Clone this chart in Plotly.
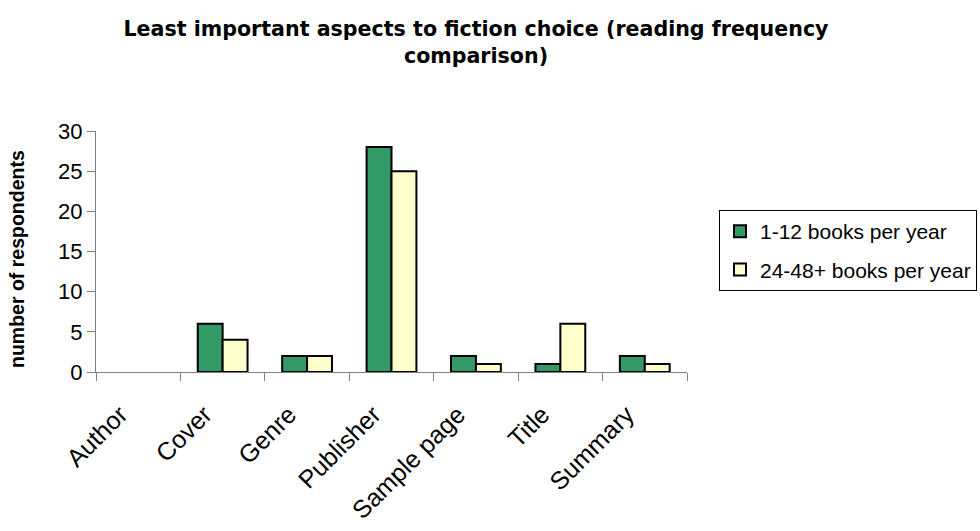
import plotly.graph_objects as go

categories = ["Author", "Cover", "Genre", "Publisher", "Sample page", "Title", "Summary"]
low_readers = [0, 6, 2, 28, 2, 1, 2]
high_readers = [0, 4, 2, 25, 1, 6, 1]
series_names = ["1-12 books per year", "24-48+ books per year"]
y_ticks = [0, 5, 10, 15, 20, 25, 30]

FONT = "Arial, Liberation Sans, sans-serif"
TITLE_FONT = "DejaVu Sans, sans-serif"


def drawn(values):
    # empty categories get no bar at all (avoids a flat outline on the baseline)
    return [v if v > 0 else None for v in values]


fig = go.Figure()
fig.add_trace(go.Bar(
    x=categories, y=drawn(low_readers), name=series_names[0],
    marker=dict(color="#339966", line=dict(color="#000000", width=2)),
    legendgroup="a",
))
fig.add_trace(go.Bar(
    x=categories, y=drawn(high_readers), name=series_names[1],
    marker=dict(color="#FFFFCC", line=dict(color="#000000", width=2)),
    legendgroup="b",
))

fig.update_layout(
    width=980, height=531,
    margin=dict(l=96, r=293, t=131, b=159, autoexpand=False),
    paper_bgcolor="white", plot_bgcolor="white",
    font=dict(family=FONT, color="#000000"),
    barmode="group", bargap=0.41, bargroupgap=0,
    title=dict(
        text="<b>Least important aspects to fiction choice (reading frequency<br>comparison)</b>",
        x=476 / 980, xanchor="center", xref="container",
        y=0.932, yanchor="top", yref="container",
        font=dict(size=20.6, family=TITLE_FONT),
    ),
    legend=dict(
        xref="container", yref="container",
        x=719 / 980, xanchor="left", y=1 - 210 / 531, yanchor="top",
        bordercolor="#000000", borderwidth=1,
        font=dict(size=21, family=FONT),
        traceorder="grouped", tracegroupgap=8, itemwidth=30,
    ),
    showlegend=True,
)

fig.update_xaxes(
    type="category", tickson="boundaries",
    ticks="outside", ticklen=8, tickcolor="#808080",
    showline=True, linecolor="#808080", linewidth=1,
    tickangle=-45, tickfont=dict(size=25, family=FONT),
    ticklabelshift=-18, ticklabelstandoff=17,
    showgrid=False,
)
fig.update_yaxes(
    range=[0, 30], tickvals=y_ticks,
    ticks="outside", ticklen=8, tickcolor="#808080",
    showline=True, linecolor="#808080", linewidth=1,
    tickfont=dict(size=22, family=FONT),
    showgrid=False, zeroline=False,
)

fig.add_annotation(
    text="<b>number of respondents</b>", textangle=-90,
    xref="paper", yref="paper", x=(17 - 96) / 591, y=(372 - 259) / 241,
    xanchor="center", yanchor="middle", showarrow=False,
    font=dict(size=19.5, family=FONT),
)

fig.write_html("out.html")
